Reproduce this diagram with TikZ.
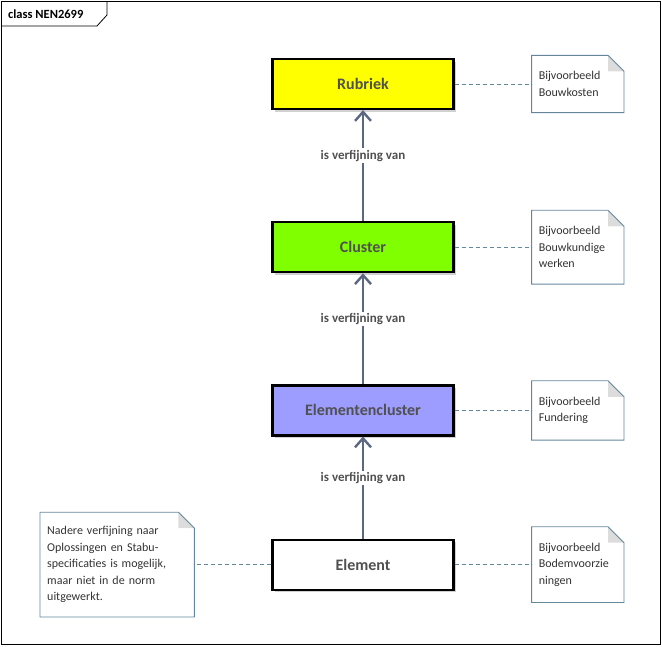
\documentclass[tikz,border=0pt]{standalone}
\usepackage{fontspec}
\setmainfont{Carlito}
\usepackage{tikz}
\usetikzlibrary{arrows.meta,positioning,shadows}
\definecolor{rubriekfill}{HTML}{FFFF00}
\definecolor{clusterfill}{HTML}{80FF00}
\definecolor{elcfill}{HTML}{9D9DFF}
\definecolor{labelgrey}{HTML}{505050}
\definecolor{notetext}{HTML}{333333}
\definecolor{arrowcol}{HTML}{5C6781}
\definecolor{notecol}{HTML}{64879C}
\definecolor{foldgrey}{HTML}{DCDCDC}

\begin{document}
\begin{tikzpicture}[x=1pt, y=-1pt, node distance=111pt]
\tikzstyle{cls}=[draw=black, line width=2.2pt, minimum width=181pt, minimum height=50pt, font=\fontsize{16}{19}\selectfont\bfseries, text=labelgrey, drop shadow={shadow xshift=2.5pt, shadow yshift=-2.5pt, opacity=0.3, fill=black!60}]
\tikzstyle{note}=[align=left, text width=78pt, inner xsep=7pt, inner ysep=16pt, font=\fontsize{12}{16.5}\selectfont, text=notetext]
\tikzstyle{refine}=[draw=arrowcol, line width=2.4pt, -{Straight Barb[length=9pt,width=16pt]}]
\tikzstyle{link}=[draw=notecol, dash pattern=on 4pt off 3pt, line width=0.9pt]
\useasboundingbox (0,0) rectangle (662,646);
% frame and tab
\draw[line width=0.8pt] (1,1) rectangle (660,644);
\node[anchor=west, inner sep=0pt, font=\fontsize{12.5}{15}\selectfont\bfseries] (title) at (8,14) {class NEN2699};
\draw[line width=0.8pt] (1,26) -- (97,26) -- (107,15) -- (107,1);
% classes
\node[cls, fill=rubriekfill] (rubriek) at (363,84) {Rubriek};
\node[cls, fill=clusterfill, below=of rubriek] (cluster) {Cluster};
\node[cls, fill=elcfill, below=of cluster] (elcluster) {Elementencluster};
\node[cls, fill=white, below=102pt of elcluster] (element) {Element};
% notes
\node[note, right=77pt of rubriek] (nrubriek) {Bijvoorbeeld\\Bouwkosten};
\node[note, right=77pt of cluster] (ncluster) {Bijvoorbeeld\\Bouwkundige\\werken};
\node[note, right=77pt of elcluster] (nelcluster) {Bijvoorbeeld\\Fundering};
\node[note, right=77pt of element] (nelement) {Bijvoorbeeld\\Bodemvoorzie\\ningen};
\node[note, text width=140pt, inner ysep=14pt, left=77pt of element] (nnadere) {Nadere verfijning naar\\Oplossingen en Stabu-\\specificaties is mogelijk,\\maar niet in de norm\\uitgewerkt.};
\foreach \n in {nrubriek,ncluster,nelcluster,nelement,nnadere}{
  \fill[foldgrey] ([xshift=-16pt]\n.north east) -- ([yshift=-16pt]\n.north east) -- ([xshift=-16pt,yshift=-16pt]\n.north east) -- cycle;
  \draw[notecol, line width=0.9pt] (\n.north west) -- ([xshift=-16pt]\n.north east) -- ([yshift=-16pt]\n.north east) -- (\n.south east) -- (\n.south west) -- cycle;
}
% connectors
\foreach \x/\y in {cluster/rubriek,elcluster/cluster,element/elcluster}{\draw[refine] (\x) -- node[pos=0.59, fill=white, inner sep=1.5pt, font=\fontsize{13}{15}\selectfont\bfseries, text=labelgrey] {is verfijning van} (\y);}
\foreach \x/\y in {rubriek/nrubriek,cluster/ncluster,elcluster/nelcluster,element/nelement}{\draw[link] (\x.east) -- (\x.east -| \y.west);}
\draw[link] (element.west) -- (element.west -| nnadere.east);
\end{tikzpicture}
\end{document}
